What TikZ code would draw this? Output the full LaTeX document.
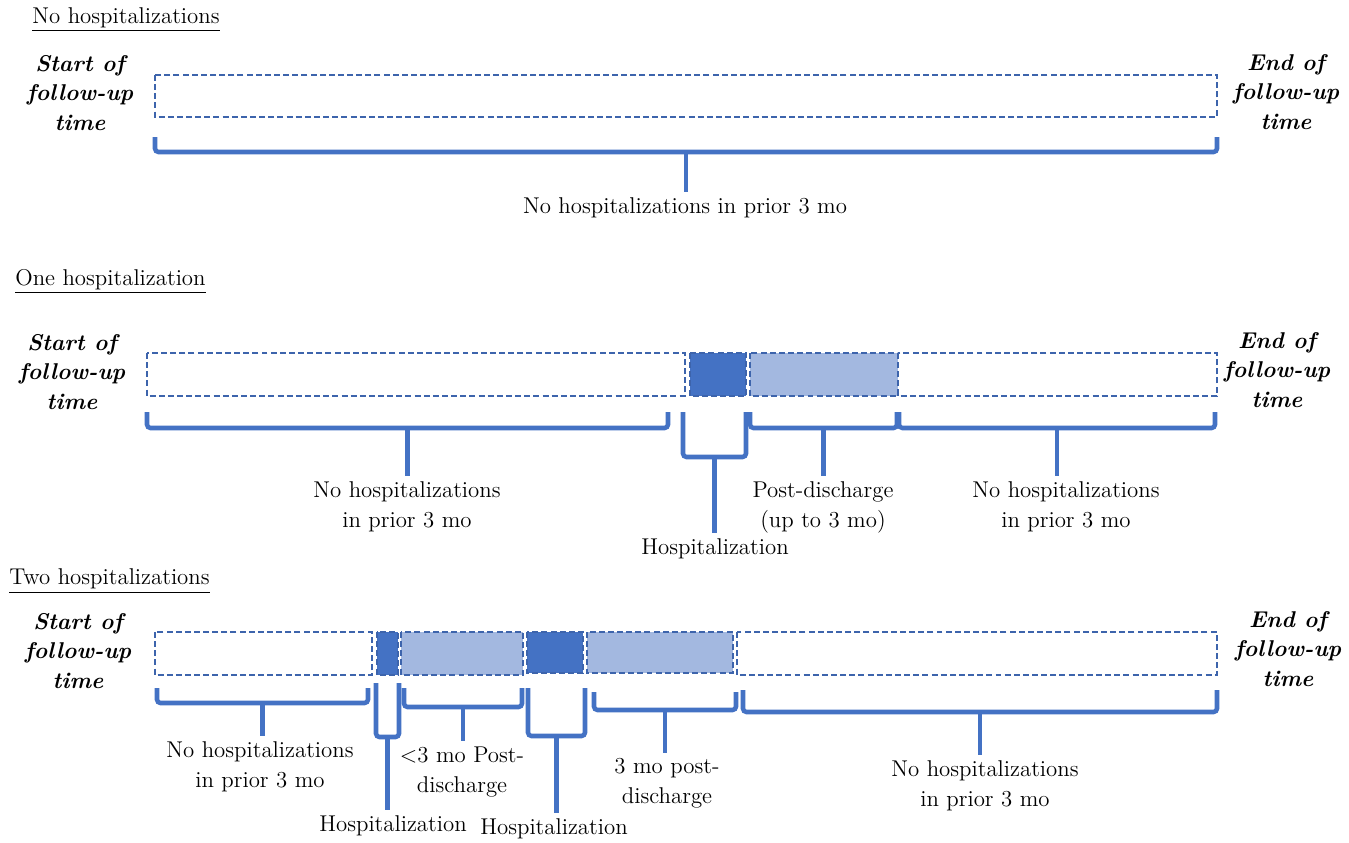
\documentclass[tikz,border=0pt]{standalone}
\usepackage{fontspec}
\usetikzlibrary{positioning}

\definecolor{hospblue}{HTML}{4472C4}
\definecolor{postblue}{HTML}{A3B8E0}
\definecolor{edgeblue}{HTML}{3D64AC}

% bracket under a span: left x, right x, tick top y, bar y, label node
\newcommand{\spanbrace}[5]{%
  \draw[brace] (#1,#3) -- (#1,#4) -- (#2,#4) -- (#2,#3);
  \coordinate (mid) at ({(#1+#2)/2},#4);
  \draw[brace] (mid) -- (mid |- #5.north);
}

\begin{document}
\begin{tikzpicture}[x=0.02cm, y=-0.02cm,
    seg/.style={draw=edgeblue, dash pattern=on 3.4pt off 1.8pt, line width=0.8pt},
    hosp/.style={seg, fill=hospblue},
    post/.style={seg, fill=postblue},
    brace/.style={draw=hospblue, line width=2.6pt, rounded corners=2pt},
    lbl/.style={align=center, font=\fontsize{13}{17}\selectfont, inner sep=3pt},
    ends/.style={align=center, font=\fontsize{13}{17}\selectfont\bfseries\itshape},
    head/.style={anchor=west, font=\fontsize{13}{17}\selectfont, inner sep=0pt}
]
\useasboundingbox (0,0) rectangle (1349,842);

% --- no hospitalizations
\node[head] (headnone) at (32,20) {\underline{No hospitalizations}};
\node[ends] (startnone) at (80,93) {Start of\\follow-up\\time};
\node[ends] (endnone) at (1286,92) {End of\\follow-up\\time};
\draw[seg] (155,75) rectangle (1217,117);
\node[lbl] (nonelbl) at (685,208) {No hospitalizations in prior 3 mo};
\spanbrace{155}{1217}{137}{152}{nonelbl}

% --- one hospitalization
\node[head] (headone) at (15,281) {\underline{One hospitalization}};
\node[ends] (startone) at (72,372) {Start of\\follow-up\\time};
\node[ends] (endone) at (1277,370) {End of\\follow-up\\time};
\draw[seg] (147,353) rectangle (685,396);
\draw[hosp] (690,353) rectangle (746,396);
\draw[post] (750,353) rectangle (898,396);
\draw[seg] (898,353) rectangle (1217,396);
\node[lbl] (onepre) at (407,507) {No hospitalizations\\in prior 3 mo};
\node[lbl] (onehosp) at (715,549) {Hospitalization};
\node[lbl] (onepost) at (823,507) {Post-discharge\\(up to 3 mo)};
\node[lbl] (oneafter) at (1066,507) {No hospitalizations\\in prior 3 mo};
\spanbrace{147}{668}{412}{428}{onepre}
\spanbrace{683}{746}{412}{457}{onehosp}
\spanbrace{750}{897}{412}{428}{onepost}
\spanbrace{899}{1215}{412}{428}{oneafter}

% --- two hospitalizations
\node[head] (headtwo) at (9,581) {\underline{Two hospitalizations}};
\node[ends] (starttwo) at (78,651) {Start of\\follow-up\\time};
\node[ends] (endtwo) at (1288,649) {End of\\follow-up\\time};
\draw[seg] (155,632) rectangle (372,675);
\draw[hosp] (377,632) rectangle (398,675);
\draw[post] (401,632) rectangle (523,675);
\draw[hosp] (527,632) rectangle (583,673);
\draw[post] (587,632) rectangle (733,673);
\draw[seg] (737,632) rectangle (1217,675);
\node[lbl] (twopre) at (260,767) {No hospitalizations\\in prior 3 mo};
\node[lbl] (twohospa) at (393,826) {Hospitalization};
\node[lbl] (twoposta) at (462,772) {<3 mo Post-\\discharge};
\node[lbl] (twohospb) at (554,829) {Hospitalization};
\node[lbl] (twopostb) at (667,783) {3 mo post-\\discharge};
\node[lbl] (twoafter) at (985,786) {No hospitalizations\\in prior 3 mo};
\spanbrace{157}{368}{688}{703}{twopre}
\spanbrace{376}{399}{683}{737}{twohospa}
\spanbrace{404}{522}{688}{707}{twoposta}
\spanbrace{528}{585}{688}{736}{twohospb}
\spanbrace{594}{736}{692}{710}{twopostb}
\spanbrace{743}{1217}{690}{712}{twoafter}
\end{tikzpicture}
\end{document}
